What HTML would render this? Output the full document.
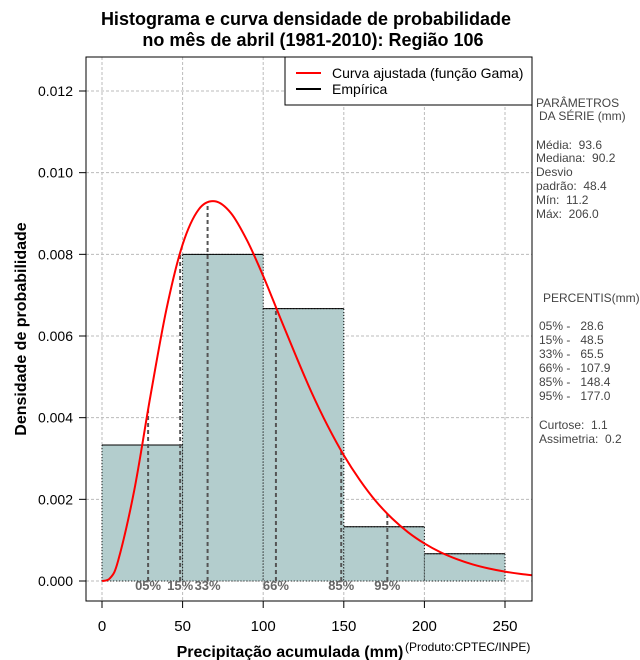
<!DOCTYPE html>
<html><head><meta charset="utf-8"><style>
body{margin:0;background:#fff;}
svg{display:block;font-family:"Liberation Sans",sans-serif;}
text{white-space:pre;}
</style></head><body>
<svg id="c" width="640" height="660" xmlns="http://www.w3.org/2000/svg">
<g id="grid"></g>
<g id="bars"></g>
<g id="pct"></g>
<clipPath id="clip"><rect x="86" y="57" width="446" height="544"/></clipPath>
<g id="curve" clip-path="url(#clip)"></g>
<rect x="86" y="57" width="446" height="544" fill="none" stroke="#000"/>
<g id="axes"></g>
<text x="306" y="25" text-anchor="middle" font-size="18" font-weight="bold">Histograma e curva densidade de probabilidade</text>
<text x="313" y="46" text-anchor="middle" font-size="18" font-weight="bold">no mês de abril (1981-2010): Região 106</text>
<text x="290" y="660" dy="-3" text-anchor="middle" font-size="16" font-weight="bold">Precipitação acumulada (mm)</text>
<text x="405" y="651" font-size="12">(Produto:CPTEC/INPE)</text>
<text transform="translate(26,329) rotate(-90)" text-anchor="middle" font-size="16" font-weight="bold">Densidade de probabilidade</text>
<g>
<rect x="285" y="57" width="247" height="48" fill="#fff" stroke="#000"/>
<line x1="296" y1="73" x2="321" y2="73" stroke="#f00" stroke-width="2"/>
<line x1="296" y1="89" x2="321" y2="89" stroke="#000" stroke-width="2"/>
<text x="332" y="78" font-size="14">Curva ajustada (função Gama)</text>
<text x="332" y="94" font-size="14">Empírica</text>
</g>
<g font-size="12" fill="#444">
<text x="536" y="107">PARÂMETROS</text>
<text x="539" y="120">DA SÉRIE (mm)</text>
<text x="536" y="149">Média:  93.6</text>
<text x="536" y="162">Mediana:  90.2</text>
<text x="536" y="176">Desvio</text>
<text x="536" y="190">padrão:  48.4</text>
<text x="536" y="204">Mín:  11.2</text>
<text x="536" y="218">Máx:  206.0</text>
<text x="543" y="302">PERCENTIS(mm)</text>
<text x="539" y="330">05% -   28.6</text>
<text x="539" y="344">15% -   48.5</text>
<text x="539" y="358">33% -   65.5</text>
<text x="539" y="372">66% -   107.9</text>
<text x="539" y="386">85% -   148.4</text>
<text x="539" y="400">95% -   177.0</text>
<text x="539" y="429">Curtose:  1.1</text>
<text x="539" y="443">Assimetria:  0.2</text>
</g>
</svg>
<script>
const binStarts=[0,50,100,150,200];
const binDens=[0.00333,0.0080,0.00667,0.00133,0.000667];
const binWidth=50;
const curveX=[0,5,10,20,30,40,50,60,70,80,90,100,110,120,130,140,150,160,170,180,190,200,210,220,230,240,250,260,270];
const curveY=[0,0.00007,0.000495,0.00222,0.00452,0.00666,0.00824,0.0091,0.0093,0.00901,0.00834,0.00747,0.0065,0.00554,0.00462,0.0038,0.00308,0.00247,0.00195,0.00153,0.00119,0.00092,0.000704,0.000537,0.000406,0.000306,0.000229,0.000171,0.000127];
const pctVals=[28.6,48.5,65.5,107.9,148.4,177.0];
const pctLabels=["05%","15%","33%","66%","85%","95%"];
const xTicks=[0,50,100,150,200,250];
const yTicks=[0,0.002,0.004,0.006,0.008,0.010,0.012];
const yTickLabels=["0.000","0.002","0.004","0.006","0.008","0.010","0.012"];
const NS="http://www.w3.org/2000/svg";
const X=v=>102+v*1.612;
const Y=v=>581-v*40833;
function mk(t,a,p){const e=document.createElementNS(NS,t);for(const k in a)e.setAttribute(k,a[k]);p.appendChild(e);return e;}
const grid=document.getElementById('grid'),bars=document.getElementById('bars'),pct=document.getElementById('pct'),curve=document.getElementById('curve'),axes=document.getElementById('axes');
xTicks.forEach(t=>{const l=mk('line',{x1:X(t),x2:X(t),y1:57,y2:601,stroke:'#bbb','stroke-dasharray':'3,2'},grid);

const k=mk('line',{x1:X(t),x2:X(t),y1:601,y2:608,stroke:'#000'},axes);

const tx=mk('text',{x:X(t),y:631,'text-anchor':'middle','font-size':'15'},axes);tx.textContent=t;
});
yTicks.forEach((t,i)=>{const l=mk('line',{x1:86,x2:532,y1:Y(t),y2:Y(t),stroke:'#bbb','stroke-dasharray':'3,2'},grid);

const k=mk('line',{x1:79,x2:86,y1:Y(t),y2:Y(t),stroke:'#000'},axes);

const tx=mk('text',{x:73,y:Y(t)+5,'text-anchor':'end','font-size':'14'},axes);tx.textContent=yTickLabels[i];
});
binStarts.forEach((s,i)=>{const x0=X(s),x1=X(s+binWidth),y=Y(binDens[i]);
const r=mk('rect',{x:x0,y:y,width:x1-x0,height:Y(0)-y,fill:'#b3cdcd',stroke:'#000','stroke-dasharray':'1,2','stroke-width':'1'},bars);

const t=mk('line',{x1:x0,x2:x1,y1:y,y2:y,stroke:'#000'},bars);
});
function dens(v){for(let i=1;i<curveX.length;i++){if(v<=curveX[i]){const f=(v-curveX[i-1])/(curveX[i]-curveX[i-1]);return curveY[i-1]+f*(curveY[i]-curveY[i-1]);}}return 0;}
pctVals.forEach((v,i)=>{const l=mk('line',{x1:X(v),x2:X(v),y1:Y(0),y2:Y(dens(v)),stroke:'#555','stroke-width':'2','stroke-dasharray':'4,3'},pct);

const t=mk('text',{x:X(v),y:590,'text-anchor':'middle','font-size':'13','font-weight':'bold',fill:'#666'},pct);t.textContent=pctLabels[i];
});
// smooth Catmull-Rom path through the points
const pts=curveX.map((v,i)=>[X(v),Y(curveY[i])]);
let d='M'+pts[0][0]+','+pts[0][1];
for(let i=0;i<pts.length-1;i++){const p0=pts[Math.max(0,i-1)],p1=pts[i],p2=pts[i+1],p3=pts[Math.min(pts.length-1,i+2)];
const c1=[p1[0]+(p2[0]-p0[0])/6,p1[1]+(p2[1]-p0[1])/6],c2=[p2[0]-(p3[0]-p1[0])/6,p2[1]-(p3[1]-p1[1])/6];
d+='C'+c1.join(',')+' '+c2.join(',')+' '+p2.join(',');}
const p=mk('path',{d:d,fill:'none',stroke:'#f00','stroke-width':'2'},curve);

</script>
</body></html>
